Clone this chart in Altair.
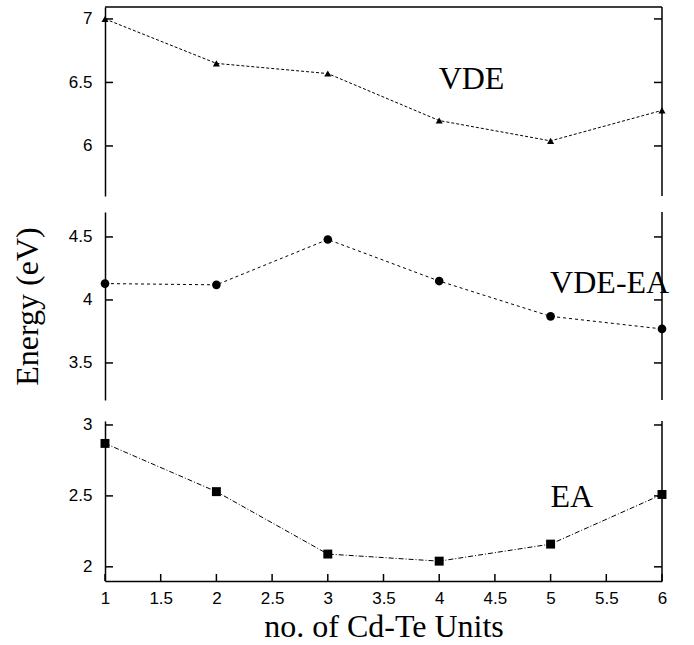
import altair as alt
import pandas as pd

# ---- data ----
units = [1, 2, 3, 4, 5, 6]
vde = [7.00, 6.65, 6.57, 6.20, 6.04, 6.28]
vde_ea = [4.13, 4.12, 4.48, 4.15, 3.87, 3.77]
ea = [2.87, 2.53, 2.09, 2.04, 2.16, 2.51]

x_ticks = [1, 1.5, 2, 2.5, 3, 3.5, 4, 4.5, 5, 5.5, 6]
vde_ticks = [6, 6.5, 7]
vde_ea_ticks = [3.5, 4, 4.5]
ea_ticks = [2, 2.5, 3]

names = ["VDE", "VDE-EA", "EA"]
x_title = "no. of Cd-Te Units"
y_title = "Energy (eV)"

W = 557
SERIF = "Liberation Serif"
SANS = "Liberation Sans"

x_scale = alt.Scale(domain=[1, 6], nice=False, zero=False)


def panel(values, ticks, domain, height, label, label_x, label_y, shape, size,
          dash, top_line=False, bottom_axis=False, title=None):
    df = pd.DataFrame({"n": units, "E": values})
    y_scale = alt.Scale(domain=domain, nice=False, zero=False)
    ax_kw = dict(values=ticks, format="~g", ticks=False, domain=True,
                 domainColor="black", domainWidth=1.5, labelFont=SANS,
                 labelFontSize=17, labelColor="black", labelPadding=13,
                 grid=False)
    if title:
        ax_kw.update(title=title, titleFont=SERIF, titleFontSize=32,
                     titleFontWeight="normal", titleColor="black",
                     titlePadding=24)
    else:
        ax_kw.update(title=None)
    y_axis = alt.Axis(**ax_kw)

    if bottom_axis:
        x_axis = alt.Axis(values=x_ticks, format="~g", ticks=False, domain=True,
                          domainColor="black", domainWidth=1.5, labelFont=SANS,
                          labelFontSize=17, labelColor="black", labelPadding=9,
                          labelFlush=False, grid=False, title=x_title,
                          titleFont=SERIF, titleFontSize=32,
                          titleFontWeight="normal", titleColor="black",
                          titlePadding=5)
    else:
        x_axis = None

    def X(**kw):
        return alt.X(scale=x_scale, axis=x_axis, **kw)

    def Y(**kw):
        return alt.Y(scale=y_scale, axis=y_axis, **kw)

    line = alt.Chart(df).mark_line(color="black", strokeWidth=1,
                                   strokeDash=dash).encode(
        x=X(field="n", type="quantitative"), y=Y(field="E", type="quantitative"))
    pts = alt.Chart(df).mark_point(filled=True, shape=shape, size=size,
                                   color="black", opacity=1).encode(
        x=X(field="n", type="quantitative"), y=Y(field="E", type="quantitative"))

    tdf = pd.DataFrame({"E": ticks})
    lt = alt.Chart(tdf).mark_rule(color="black", strokeWidth=1.5).encode(
        y=Y(field="E", type="quantitative"), x=alt.value(0), x2=alt.value(8))
    rt = alt.Chart(tdf).mark_rule(color="black", strokeWidth=1.5).encode(
        y=Y(field="E", type="quantitative"), x=alt.value(W - 8), x2=alt.value(W))
    frame_df = pd.DataFrame({"k": [0]})
    right_line = alt.Chart(frame_df).mark_rule(color="black", strokeWidth=1.5).encode(
        x=alt.value(W), y=alt.value(0), y2=alt.value(height))

    txt = alt.Chart(pd.DataFrame({"lab": [label]})).mark_text(
        font=SERIF, fontSize=32, color="black", align="center",
        baseline="middle").encode(
        x=X(datum=label_x), y=Y(datum=label_y), text="lab:N")

    layers = [line, pts, lt, rt, right_line, txt]
    if top_line:
        layers.append(alt.Chart(frame_df).mark_rule(color="black", strokeWidth=1.5).encode(
            x=alt.value(0), x2=alt.value(W), y=alt.value(0)))
    if bottom_axis:
        xt = alt.Chart(pd.DataFrame({"n": x_ticks})).mark_rule(
            color="black", strokeWidth=1.5).encode(
            x=X(field="n", type="quantitative"), y=alt.value(height - 7),
            y2=alt.value(height))
        layers.append(xt)
    return alt.layer(*layers).properties(width=W, height=height)


top = panel(vde, vde_ticks, [5.606, 7.094], 189, names[0], 4.29, 6.53,
            "triangle-up", 50, [3, 2], top_line=True)
mid = panel(vde_ea, vde_ea_ticks, [3.206, 4.698], 188, names[1], 5.53, 4.135,
            "circle", 75, [3, 3], title=y_title)
bot = panel(ea, ea_ticks, [1.90, 3.028], 160, names[2], 5.19, 2.49,
            "square", 80, [5, 2, 1, 2], bottom_axis=True)

chart = alt.vconcat(top, mid, bot, spacing=14).properties(
    padding={"left": 11, "top": 6, "right": 5, "bottom": 5},
    background="white"
).configure_view(stroke=None).configure_axis(grid=False)

chart.save("out.html", embed_options={"renderer": "svg", "actions": False})
